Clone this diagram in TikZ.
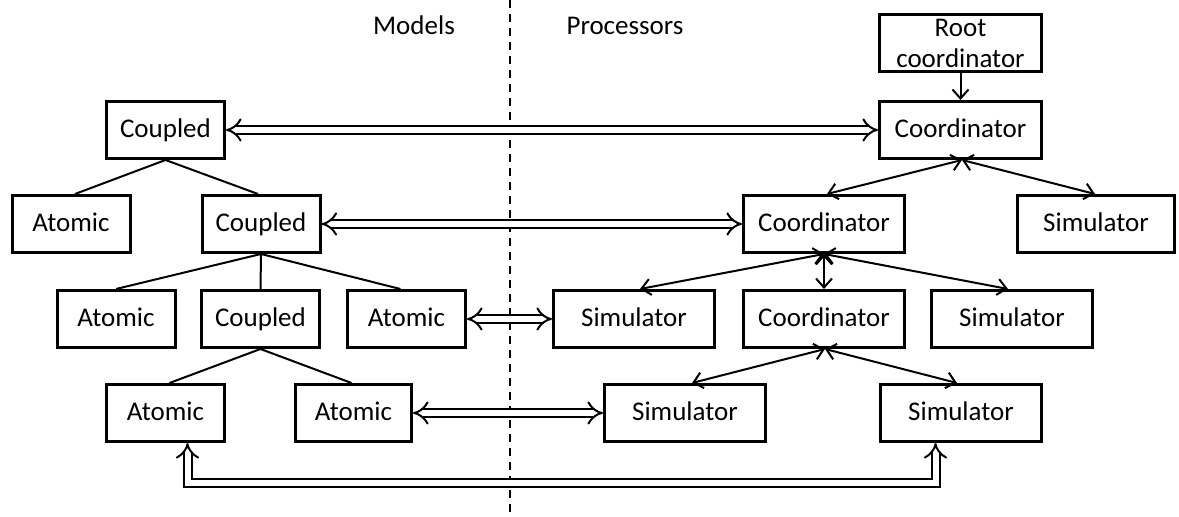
\documentclass[tikz,border=0pt]{standalone}
\usepackage{fontspec}
\setmainfont{Carlito}
\usetikzlibrary{arrows.meta}
\begin{document}
\begin{tikzpicture}[x=0.5pt,y=-0.5pt,
  font=\fontsize{13.5}{15.5}\selectfont,
  boxbase/.style={draw,line width=1.5pt,minimum height=28.5pt,inner sep=1pt,align=center},
  box/.style={boxbase,text height=9.5pt,text depth=1.5pt},
  sbox/.style={box,minimum width=59pt},
  lbox/.style={box,minimum width=80.5pt},
  tree/.style={line width=1pt},
  conn/.style={line width=1pt,{Straight Barb[length=4.5pt,width=8pt]}-{Straight Barb[length=4.5pt,width=8pt]}},
  one/.style={line width=1pt,-{Straight Barb[length=4.5pt,width=8pt]}},
  dbl/.style={line width=1pt,double distance=3pt,{Implies[length=6pt,width=13pt]}-{Implies[length=6pt,width=13pt]}},
  sep/.style={line width=1pt,dash pattern=on 4pt off 3pt}
]
\useasboundingbox (0,0) rectangle (1179,517);
\coordinate (st) at (510,0);
\coordinate (sb) at (510,517);
\draw[sep] (st) -- (sb);
\node[anchor=base] (models) at (414,35) {Models};
\node[anchor=base] (proc) at (625,35) {Processors};

\node[boxbase,minimum width=81pt] (root) at (960.5,43) {Root\\coordinator};
\node[box,minimum width=81pt] (coord1) at (960.5,130) {Coordinator};
\node[sbox] (coupled1) at (165.5,130) {Coupled};

\node[sbox] (atomic2) at (71,224) {Atomic};
\node[sbox] (coupled2) at (261,224) {Coupled};
\node[lbox] (coord2) at (824,224) {Coordinator};
\node[box,minimum width=78.5pt] (sim2) at (1096,224) {Simulator};

\node[sbox] (atomic3a) at (116,319) {Atomic};
\node[sbox] (coupled3) at (260.5,319) {Coupled};
\node[sbox] (atomic3b) at (406.5,319) {Atomic};
\node[lbox] (sim3a) at (634,319) {Simulator};
\node[lbox] (coord3) at (824,319) {Coordinator};
\node[lbox] (sim3b) at (1012,319) {Simulator};

\node[sbox] (atomic4a) at (165.5,413) {Atomic};
\node[box,minimum width=58pt] (atomic4b) at (353.5,413) {Atomic};
\node[lbox] (sim4a) at (685,413) {Simulator};
\node[lbox] (sim4b) at (961,413) {Simulator};

% tree
\draw[tree] (coupled1.south) -- ([xshift=2pt]atomic2.north);
\draw[tree] (coupled1.south) -- ([xshift=-1.5pt]coupled2.north);
\draw[tree] (coupled2.south) -- (atomic3a.north);
\draw[tree] (coupled2.south) -- (coupled3.north);
\draw[tree] (coupled2.south) -- ([xshift=-3pt]atomic3b.north);
\draw[tree] (coupled3.south) -- ([xshift=2pt]atomic4a.north);
\draw[tree] (coupled3.south) -- ([xshift=-1pt]atomic4b.north);

% processors
\draw[one] (root.south) -- (coord1.north);
\draw[conn] ([xshift=0.75pt]coord1.south) -- ([xshift=1.5pt]coord2.north);
\draw[conn] ([xshift=0.75pt]coord1.south) -- ([xshift=-0.5pt]sim2.north);
\draw[conn] (coord2.south) -- ([xshift=3pt]sim3a.north);
\draw[conn] (coord2.south) -- (coord3.north);
\draw[conn] (coord2.south) -- ([xshift=-2pt]sim3b.north);
\draw[conn] ([xshift=0.5pt]coord3.south) -- ([xshift=3.5pt]sim4a.north);
\draw[conn] ([xshift=0.5pt]coord3.south) -- ([xshift=-2pt]sim4b.north);

% model <-> processor
\draw[dbl] (coupled1.east) -- (coord1.west);
\draw[dbl] (coupled2.east) -- (coord2.west);
\draw[dbl] (atomic3b.east) -- (sim3a.west);
\draw[dbl] (atomic4b.east) -- (sim4a.west);
\coordinate (bl) at (187.5,483);
\coordinate (br) at (935.5,483);
\draw[dbl] ([xshift=11pt]atomic4a.south) -- (bl) -- (br) -- ([xshift=-12.75pt]sim4b.south);
\end{tikzpicture}
\end{document}
